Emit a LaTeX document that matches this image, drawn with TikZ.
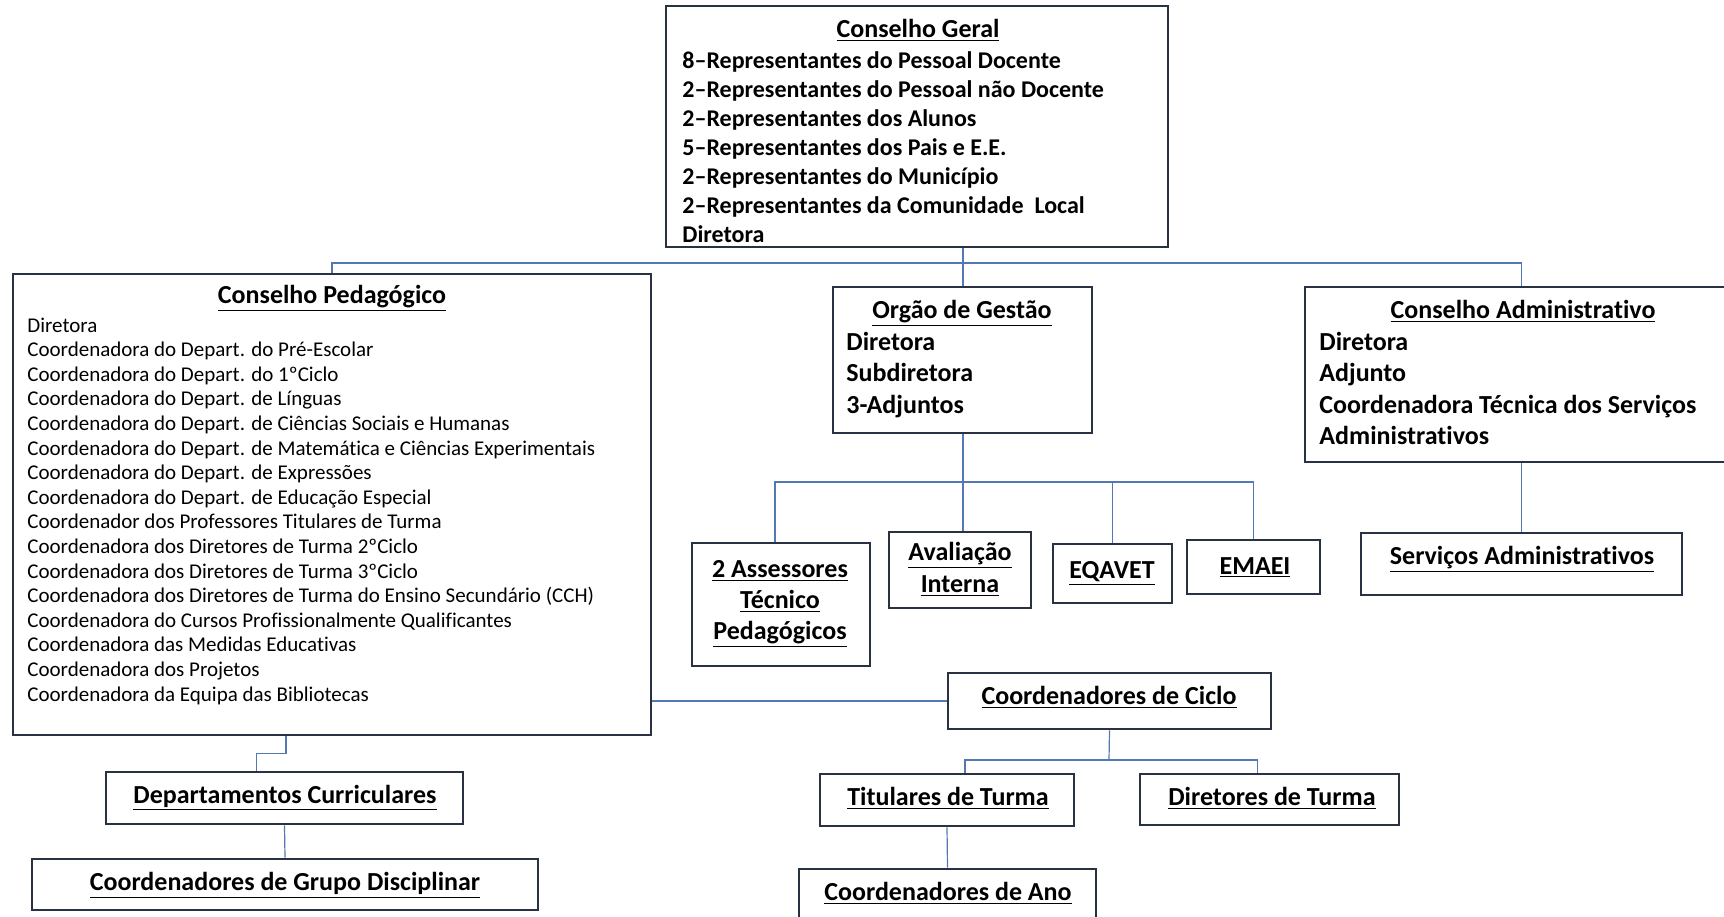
\documentclass[tikz,border=0pt]{standalone}
\usepackage{fontspec}
\setmainfont{Carlito}[Ligatures={NoCommon}]
\usetikzlibrary{fit,calc}
\definecolor{boxc}{RGB}{40,50,66}
\definecolor{linec}{RGB}{84,120,180}
\newcommand{\myul}[1]{\underline{#1}}
\tikzset{
 box/.style={draw=boxc, line width=1.3pt, inner sep=0pt},
 conn/.style={draw=linec, line width=0.6pt},
 ttl/.style={font=\bfseries\fontsize{13}{15}\selectfont, anchor=base, inner sep=0pt},
 cgl/.style={font=\bfseries\fontsize{12}{14}\selectfont, anchor=base west, inner sep=0pt},
 cpl/.style={font=\fontsize{10.5}{12}\selectfont, anchor=base west, inner sep=0pt},
 ogl/.style={font=\bfseries\fontsize{13}{15}\selectfont, anchor=base west, inner sep=0pt},
}
\begin{document}
\begin{tikzpicture}[x=0.5pt,y=-0.5pt]
\useasboundingbox (0,0) rectangle (1724,916);
\fill[white] (0,0) rectangle (1724,916);
\clip (0,0) rectangle (1724,916);
% boxes
\node[box, fit={(666,6) (1168,247)}] (CG) {};
\node[box, fit={(13,274) (651,735)}] (CP) {};
\node[box, fit={(833,287) (1092,433)}] (OG) {};
\node[box, fit={(1305,287) (1740,462)}] (CA) {};
\node[box, fit={(692,543) (870,666)}] (A2) {};
\node[box, fit={(889,532) (1031,608)}] (AI) {};
\node[box, fit={(1053,544) (1172,603)}] (EQ) {};
\node[box, fit={(1187,540) (1320,594)}] (EM) {};
\node[box, fit={(1361,533) (1682,595)}] (SA) {};
\node[box, fit={(948,673) (1271,729)}] (CC) {};
\node[box, fit={(820,774) (1074,826)}] (TT) {};
\node[box, fit={(1140,774) (1399,825)}] (DT) {};
\node[box, fit={(799,869) (1096,935)}] (AN) {};
\node[box, fit={(106,772) (463,824)}] (DC) {};
\node[box, fit={(32,859) (538,910)}] (GD) {};
% connectors
\coordinate (b1) at (963,263);
\coordinate (b2) at (963,482);
\coordinate (b3) at (1109,760);
\draw[conn] (CG.south -| b1) -- (OG.north -| b1);
\draw[conn] (CP.north) |- (b1) -| (SA.north |- CA.north);
\draw[conn] (OG.south -| b1) -- (AI.north -| b1);
\draw[conn] ($(A2.north)+(-6,0)$) |- (b2) -| (EM.north);
\draw[conn] (EQ.north) -- (EQ.north |- b2);
\draw[conn] (SA.north |- CA.south) -- (SA.north);
\draw[conn] (CP.east |- CC.west) -- (CC.west);
\draw[conn] (CC.south) -- (b3);
\draw[conn] ($(TT.north)+(18,0)$) |- (b3) -| ($(DT.north)+(-12,0)$);
\draw[conn] (TT.south) -- (AN.north);
\draw[conn] ($(CP.south)+(-46,0)$) |- ($(DC.north)+(-28,-17)$) -- ($(DC.north)+(-28,0)$);
\draw[conn] (DC.south) -- (GD.north);
% texts
\node[ttl] (cgT) at (918,37) {\myul{Conselho Geral}};
\foreach \t [count=\i from 0] in {8–Representantes do Pessoal Docente,2–Representantes do Pessoal não Docente,2–Representantes dos Alunos,5–Representantes dos Pais e E.E.,2–Representantes do Município,2–Representantes da Comunidade~ Local,Diretora}
  \node[cgl] (cg\i) at (682,{68+29*\i}) {\t};
\node[ttl] (cpT) at (332,303) {\myul{Conselho Pedagógico}};
\foreach \t [count=\i from 0] in {Diretora,Coordenadora do Depart. do Pré-Escolar,Coordenadora do Depart. do 1ºCiclo,Coordenadora do Depart. de Línguas,Coordenadora do Depart. de Ciências Sociais e Humanas,Coordenadora do Depart. de Matemática e Ciências Experimentais,Coordenadora do Depart. de Expressões,Coordenadora do Depart. de Educação Especial,Coordenador dos Professores Titulares de Turma,Coordenadora dos Diretores de Turma 2ºCiclo,Coordenadora dos Diretores de Turma 3ºCiclo,Coordenadora dos Diretores de Turma do Ensino Secundário (CCH),Coordenadora do Cursos Profissionalmente Qualificantes,Coordenadora das Medidas Educativas,Coordenadora dos Projetos,Coordenadora da Equipa das Bibliotecas}
  \node[cpl] (cp\i) at (27,{332+24.6*\i}) {\t};
\node[ttl] (ogT) at (962,318) {\myul{Orgão de Gestão}};
\node[ogl] (og1) at (846,350) {Diretora};
\node[ogl] (og2) at (846,381) {Subdiretora};
\node[ogl] (og3) at (846,413) {3-Adjuntos};
\node[ttl] (caT) at (1523,318) {\myul{Conselho Administrativo}};
\node[ogl] (ca1) at (1319,350) {Diretora};
\node[ogl] (ca2) at (1319,381) {Adjunto};
\node[ogl] (ca3) at (1319,413) {Coordenadora Técnica dos Serviços};
\node[ogl] (ca4) at (1319,444) {Administrativos};
\node[ttl] (a2a) at (780,577) {\myul{2 Assessores}};
\node[ttl] (a2b) at (780,608) {\myul{Técnico}};
\node[ttl] (a2c) at (780,639) {\myul{Pedagógicos}};
\node[ttl] (aia) at (960,560) {\myul{Avaliação}};
\node[ttl] (aib) at (960,592) {\myul{Interna}};
\node[ttl] (eqT) at (1112,578) {\myul{EQAVET}};
\node[ttl] (emT) at (1255,574) {\myul{EMAEI}};
\node[ttl] (saT) at (1522,564) {\myul{Serviços Administrativos}};
\node[ttl] (ccT) at (1109,704) {\myul{Coordenadores de Ciclo}};
\node[ttl] (ttT) at (948,805) {\myul{Titulares de Turma}};
\node[ttl] (dtT) at (1272,805) {\myul{Diretores de Turma}};
\node[ttl] (anT) at (948,900) {\myul{Coordenadores de Ano}};
\node[ttl] (dcT) at (285,803) {\myul{Departamentos Curriculares}};
\node[ttl] (gdT) at (285,890) {\myul{Coordenadores de Grupo Disciplinar}};
\end{tikzpicture}
\end{document}
